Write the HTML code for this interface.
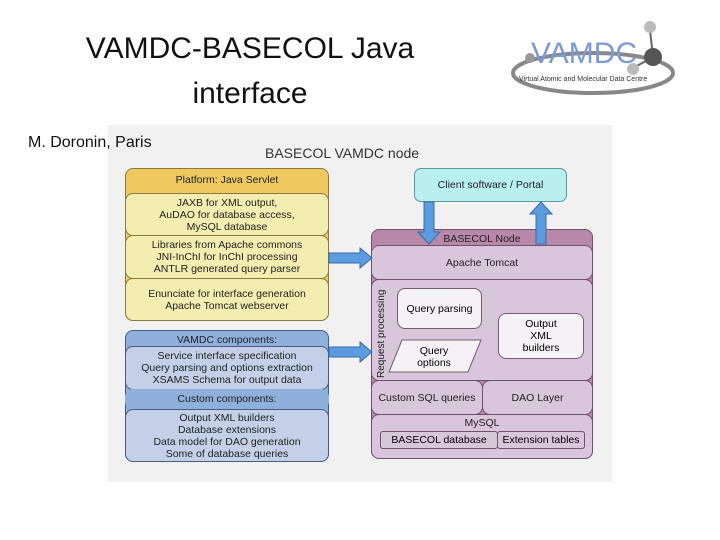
<!DOCTYPE html>
<html><head><style>
body{margin:0;width:720px;height:540px;background:#fff;position:relative;overflow:hidden;font-family:"Liberation Sans",sans-serif}
.a{position:absolute;box-sizing:border-box}
.t{text-align:center;color:#222}
.y{background:#f3eeb0;border:1px solid #8a7a40;border-radius:8px;font-size:10.5px;line-height:12px;display:flex;flex-direction:column;justify-content:center;text-align:center;color:#222}
.b{background:#c3d0e8;border:1px solid #4a5a80;border-radius:8px;font-size:10.5px;line-height:12px;display:flex;flex-direction:column;justify-content:center;text-align:center;color:#222}
.p{background:#d8c6da;border:1px solid #705070;border-radius:8px;font-size:10.5px;display:flex;align-items:center;justify-content:center;text-align:center;color:#222}
</style></head><body>
<div class="a t" style="left:60px;top:26px;width:380px;font-size:30px;line-height:45px;color:#111">VAMDC-BASECOL Java<br>interface</div>
<svg class="a" style="left:505px;top:15px" width="175" height="90">
<ellipse cx="88" cy="58" rx="80" ry="20" fill="none" stroke="#888" stroke-width="4"/>
<text x="26" y="48" font-family="Liberation Sans" font-size="30" fill="#7a9ad8">VAMDC</text>
<text x="14" y="66" font-family="Liberation Sans" font-size="7" fill="#333">Virtual Atomic and Molecular Data Centre</text>
<line x1="145" y1="15" x2="148" y2="42" stroke="#666" stroke-width="2"/><line x1="148" y1="42" x2="130" y2="52" stroke="#666" stroke-width="2"/>
<circle cx="145" cy="12" r="6" fill="#bbb"/><circle cx="148" cy="42" r="9" fill="#555"/><circle cx="128" cy="54" r="6" fill="#bbb"/><circle cx="25" cy="43" r="5" fill="#999"/>
</svg>
<div class="a" style="left:108px;top:125px;width:504px;height:357px;background:#f1f1f1"></div>
<div class="a" style="left:28px;top:134px;font-size:16px;color:#111;z-index:5">M. Doronin, Paris</div>
<div class="a" style="left:265px;top:145px;font-size:14px;color:#333">BASECOL VAMDC node</div>
<div class="a y" style="left:125px;top:168px;width:204px;height:153px;background:#f0c860;justify-content:flex-start;padding-top:5px">Platform: Java Servlet</div>
<div class="a y" style="left:125px;top:193px;width:204px;height:43px">JAXB for XML output,<br>AuDAO for database access,<br>MySQL database</div>
<div class="a y" style="left:125px;top:235px;width:204px;height:44px">Libraries from Apache commons<br>JNI-InChI for InChI processing<br>ANTLR generated query parser</div>
<div class="a y" style="left:125px;top:278px;width:204px;height:43px">Enunciate for interface generation<br>Apache Tomcat webserver</div>
<div class="a b" style="left:125px;top:330px;width:204px;height:132px;background:#8fb0dc;justify-content:flex-start;padding-top:3px">VAMDC components:</div>
<div class="a b" style="left:125px;top:346px;width:204px;height:44px">Service interface specification<br>Query parsing and options extraction<br>XSAMS Schema for output data</div>
<div class="a b" style="left:125px;top:389px;width:204px;height:20px;background:#8fb0dc;border:none">Custom components:</div>
<div class="a b" style="left:125px;top:409px;width:204px;height:53px">Output XML builders<br>Database extensions<br>Data model for DAO generation<br>Some of database queries</div>
<div class="a" style="left:414px;top:168px;width:153px;height:34px;background:#b8f0f0;border:1px solid #5a9a9a;border-radius:7px;font-size:10.5px;display:flex;align-items:center;justify-content:center;color:#222">Client software / Portal</div>
<div class="a p" style="left:371px;top:229px;width:222px;height:230px;background:#b888a8;align-items:flex-start;padding-top:3px">BASECOL Node</div>
<div class="a p" style="left:371px;top:245px;width:222px;height:35px">Apache Tomcat</div>
<div class="a p" style="left:371px;top:279px;width:222px;height:102px"></div>
<div class="a" style="left:376px;top:378px;transform:rotate(-90deg);transform-origin:0 0;font-size:10px;color:#222;white-space:nowrap">Request processing</div>
<div class="a" style="left:397px;top:288px;width:85px;height:41px;background:#f4f2f4;border:1px solid #706070;border-radius:8px;font-size:10.5px;display:flex;align-items:center;justify-content:center">Query parsing</div>
<div class="a" style="left:498px;top:313px;width:86px;height:46px;background:#f4f2f4;border:1px solid #706070;border-radius:8px;font-size:10.5px;line-height:12px;display:flex;align-items:center;justify-content:center;text-align:center">Output<br>XML<br>builders</div>
<svg class="a" style="left:388px;top:339px" width="95" height="35"><polygon points="14,1 93,1 80,33 1,33" fill="#f4f2f4" stroke="#706070"/><text x="46" y="15" font-size="10.5" text-anchor="middle" font-family="Liberation Sans">Query</text><text x="46" y="27" font-size="10.5" text-anchor="middle" font-family="Liberation Sans">options</text></svg>
<div class="a p" style="left:371px;top:380px;width:112px;height:35px">Custom SQL queries</div>
<div class="a p" style="left:482px;top:380px;width:111px;height:35px">DAO Layer</div>
<div class="a p" style="left:371px;top:414px;width:222px;height:45px;align-items:flex-start;padding-top:2px">MySQL</div>
<div class="a" style="left:380px;top:431px;width:118px;height:18px;border:1px solid #705070;border-radius:3px;font-size:10.5px;text-align:center;line-height:16px">BASECOL database</div>
<div class="a" style="left:497px;top:431px;width:88px;height:18px;border:1px solid #705070;border-radius:3px;font-size:10.5px;text-align:center;line-height:16px">Extension tables</div>
<svg class="a" style="left:0;top:0" width="720" height="540">
<g fill="#5b9be0" stroke="#3a6aa8" stroke-width="1">
<polygon points="329,253 360,253 360,248 372,258 360,268 360,263 329,263"/>
<polygon points="329,347 360,347 360,342 372,352 360,362 360,357 329,357"/>
<polygon points="424,202 434,202 434,232 440,232 429,244 418,232 424,232"/>
<polygon points="536,244 546,244 546,214 552,214 541,202 530,214 536,214"/>
</g></svg>
</body></html>
